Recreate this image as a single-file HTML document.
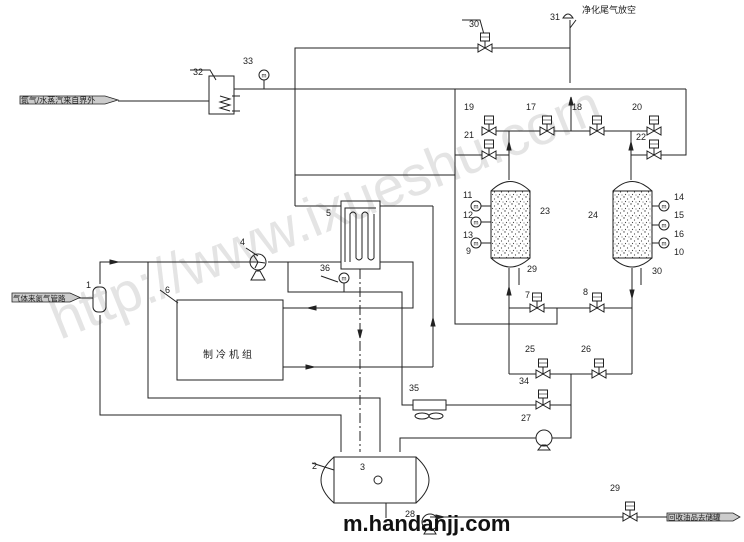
<!DOCTYPE html>
<html><head><meta charset="utf-8"><style>
html,body{margin:0;padding:0;background:#fff;}
svg{display:block;}
text{font-family:"Liberation Sans","Noto Sans CJK SC",sans-serif;fill:#222;}
</style></head><body>
<svg width="744" height="542" viewBox="0 0 744 542" xmlns="http://www.w3.org/2000/svg">
<defs>
<g id="v"><path d="M-7,-4 L-7,4 L0,0 Z M7,-4 L7,4 L0,0 Z" fill="#fff" stroke="#222" stroke-width="1"/><line x1="0" y1="0" x2="0" y2="-7" stroke="#222"/><rect x="-4.5" y="-15" width="9" height="8" fill="#fff" stroke="#222"/><line x1="-4.5" y1="-11" x2="4.5" y2="-11" stroke="#222" stroke-width="0.6"/></g>
<g id="g"><circle r="5" fill="#fff" stroke="#222"/><text x="0" y="2.5" font-size="6" text-anchor="middle">m</text></g>
<pattern id="dots" width="7" height="7" patternUnits="userSpaceOnUse"><rect width="7" height="7" fill="#fff"/><circle cx="1" cy="1" r="0.7" fill="#444"/><circle cx="4.5" cy="3" r="0.6" fill="#444"/><circle cx="2.5" cy="5.5" r="0.6" fill="#444"/><circle cx="6" cy="6" r="0.5" fill="#444"/></pattern>
</defs>
<text x="60" y="340" font-size="56" style="fill:#e4e4e4" transform="rotate(-22 60 340)" font-family="Liberation Sans">http://www.ixueshu.com</text>

<g stroke="#222" stroke-width="1" fill="none">
<polyline points="295,206 295,48 570,48"/>
<line x1="570" y1="20" x2="570" y2="83"/>
<path d="M563,18 Q568,10 573,18 Z"/>
<line x1="234" y1="89" x2="686" y2="89"/>
<polyline points="686,89 686,155 660,155"/>
<polyline points="455,89 455,324 557,324 557,308"/>
<line x1="295" y1="175" x2="455" y2="175"/>
<line x1="455" y1="155" x2="509" y2="155"/>
<line x1="482" y1="131" x2="660" y2="131"/>
<line x1="571" y1="98" x2="571" y2="131"/>
<line x1="509" y1="131" x2="509" y2="180"/>
<line x1="631" y1="131" x2="631" y2="180"/>
<line x1="631" y1="155" x2="654" y2="155"/>
<rect x="209" y="76" width="25" height="38"/>
<polyline points="220,96 230,99 220,102 230,105 220,108 230,111"/>
<line x1="232" y1="96" x2="240" y2="96"/><line x1="232" y1="111" x2="240" y2="111"/>
<line x1="118" y1="101" x2="209" y2="101"/>
<line x1="264" y1="80" x2="264" y2="89"/>
<rect x="341" y="201" width="39" height="68"/>
<path d="M345,262 L345,208 L376,208 M350,262 V214 Q353,210 356,214 V258 Q359,262 362,258 V214 Q365,210 368,214 V258 Q371,262 374,258 V214"/>
<line x1="295" y1="206" x2="341" y2="206"/>
<line x1="380" y1="206" x2="433" y2="206"/>
<line x1="433" y1="206" x2="433" y2="367"/>
<line x1="283" y1="367" x2="433" y2="367"/>
<line x1="268" y1="262" x2="341" y2="262"/>
<polyline points="380,262 413,262 413,308 283,308"/>
<line x1="360" y1="269" x2="360" y2="452" stroke-dasharray="10,3,2,3"/>
<polyline points="288,262 288,292 402,292 402,405 413,405"/>
<line x1="344" y1="283" x2="344" y2="292"/>
<line x1="446" y1="405" x2="571" y2="405"/>
<polyline points="100,284 100,262 258,262"/>
<polyline points="148,262 148,398 380,398 380,452"/>
<polyline points="100,315 100,415 341,415 341,452"/>
<rect x="93" y="287" width="13" height="25" rx="5"/>
<line x1="73" y1="298" x2="93" y2="298"/>
<rect x="177" y="300" width="106" height="80"/>
<rect x="334" y="457" width="82" height="46"/>
<path d="M334,457 Q308,480 334,503 M416,457 Q442,480 416,503"/>
<polyline points="400,452 400,438 536,438"/>
<circle cx="544" cy="438" r="8"/>
<path d="M538,450 L550,450 L546,445 L542,445 Z"/>
<polyline points="552,438 571,438 571,374"/>
<line x1="509" y1="374" x2="632" y2="374"/>
<line x1="509" y1="268" x2="509" y2="374"/>
<line x1="632" y1="268" x2="632" y2="374"/>
<line x1="509" y1="308" x2="632" y2="308"/>
<line x1="386" y1="503" x2="386" y2="518"/>
<line x1="430" y1="517" x2="667" y2="517"/>
<circle cx="430" cy="522" r="8"/>
<path d="M424,534 L436,534 L433,529 L427,529 Z"/>
<rect x="413" y="400" width="33" height="10"/>
<ellipse cx="422" cy="416" rx="7" ry="3"/><ellipse cx="436" cy="416" rx="7" ry="3"/>
<circle cx="258" cy="262" r="8"/>
<path d="M251,280 L265,280 L260,271 L256,271 Z"/>
<path d="M258,262 L254,256 M258,262 L265,263 M258,262 L255,268"/>
<path d="M491,191 Q510,172 530,191 L530,258 Q510,276 491,258 Z" fill="#fff"/>
<rect x="491" y="191" width="39" height="67" fill="url(#dots)"/>
<path d="M613,191 Q632,172 652,191 L652,258 Q632,276 613,258 Z" fill="#fff"/>
<rect x="613" y="191" width="39" height="67" fill="url(#dots)"/>
<line x1="481" y1="206" x2="491" y2="206"/><line x1="481" y1="222" x2="491" y2="222"/><line x1="481" y1="243" x2="491" y2="243"/>
<line x1="652" y1="206" x2="659" y2="206"/><line x1="652" y1="225" x2="659" y2="225"/><line x1="652" y1="243" x2="659" y2="243"/>
<line x1="519" y1="268" x2="519" y2="285"/><line x1="641" y1="268" x2="641" y2="285"/>
<path d="M576,20 L570,28 M462,20 L480,20 L485,38 M190,70 L210,70 L216,80 M246,248 L258,256 M160,290 L178,303 M321,276 L338,282 M312,463 L334,470"/>
</g>
<g stroke="#222" stroke-width="1" fill="#222">
<path d="M110,260 L118,262 L110,264 Z"/>
<path d="M358,330 L360,338 L362,330 Z"/>
<path d="M431,326 L433,318 L435,326 Z"/>
<path d="M316,306 L308,308 L316,310 Z"/>
<path d="M306,365 L314,367 L306,369 Z"/>
<path d="M569,105 L571,97 L573,105 Z"/>
<path d="M507,150 L509,142 L511,150 Z"/>
<path d="M629,150 L631,142 L633,150 Z"/>
<path d="M507,295 L509,287 L511,295 Z"/>
<path d="M630,290 L632,298 L634,290 Z"/>
<path d="M436,515 L444,517 L436,519 Z"/>
</g>
<use href="#v" x="485" y="48"/>
<use href="#v" x="489" y="131"/><use href="#v" x="547" y="131"/><use href="#v" x="597" y="131"/><use href="#v" x="654" y="131"/>
<use href="#v" x="489" y="155"/><use href="#v" x="654" y="155"/>
<use href="#v" x="537" y="308"/><use href="#v" x="597" y="308"/>
<use href="#v" x="543" y="374"/><use href="#v" x="599" y="374"/>
<use href="#v" x="543" y="405"/>
<use href="#v" x="630" y="517"/>
<use href="#g" x="264" y="75"/>
<use href="#g" x="344" y="278"/>
<use href="#g" x="476" y="206"/><use href="#g" x="476" y="222"/><use href="#g" x="476" y="243"/>
<use href="#g" x="664" y="206"/><use href="#g" x="664" y="225"/><use href="#g" x="664" y="243"/>
<circle cx="378" cy="480" r="4" fill="#fff" stroke="#222"/>
<g stroke="#222" fill="#ccc" stroke-width="0.8">
<path d="M20,96 L105,96 L118,100 L105,104 L20,104 Z"/>
<path d="M12,293 L70,293 L80,297.5 L70,302 L12,302 Z"/>
<path d="M667,513 L733,513 L740,517 L733,521 L667,521 Z"/>
</g>
<g font-size="8">
<text x="21" y="103">氮气/水蒸汽来自界外</text>
<text x="13" y="301" font-size="7.5">气体来氮气管路</text>
<text x="668" y="520" font-size="7.5">回收油品去储罐</text>
<text x="582" y="13" font-size="9">净化尾气放空</text>
<text x="203" y="358" font-size="10" letter-spacing="3">制冷机组</text>
</g>
<g font-size="9">
<text x="469" y="27">30</text><text x="550" y="20">31</text><text x="193" y="75">32</text><text x="243" y="64">33</text>
<text x="464" y="110">19</text><text x="526" y="110">17</text><text x="572" y="110">18</text><text x="632" y="110">20</text>
<text x="464" y="138">21</text><text x="636" y="140">22</text>
<text x="463" y="198">11</text><text x="463" y="218">12</text><text x="463" y="238">13</text><text x="466" y="254">9</text>
<text x="540" y="214">23</text><text x="588" y="218">24</text>
<text x="674" y="200">14</text><text x="674" y="218">15</text><text x="674" y="237">16</text><text x="674" y="255">10</text>
<text x="527" y="272">29</text><text x="652" y="274">30</text>
<text x="525" y="298">7</text><text x="583" y="295">8</text>
<text x="525" y="352">25</text><text x="581" y="352">26</text><text x="519" y="384">34</text><text x="521" y="421">27</text>
<text x="409" y="391">35</text><text x="610" y="491">29</text><text x="405" y="517">28</text>
<text x="312" y="469">2</text><text x="360" y="470">3</text>
<text x="326" y="216">5</text><text x="240" y="245">4</text><text x="320" y="271">36</text><text x="165" y="293">6</text><text x="86" y="288">1</text>
</g>
<text x="343" y="531" font-size="22" font-weight="bold" style="fill:#111" font-family="Liberation Sans">m.handanjj.com</text>
</svg>
</body></html>
